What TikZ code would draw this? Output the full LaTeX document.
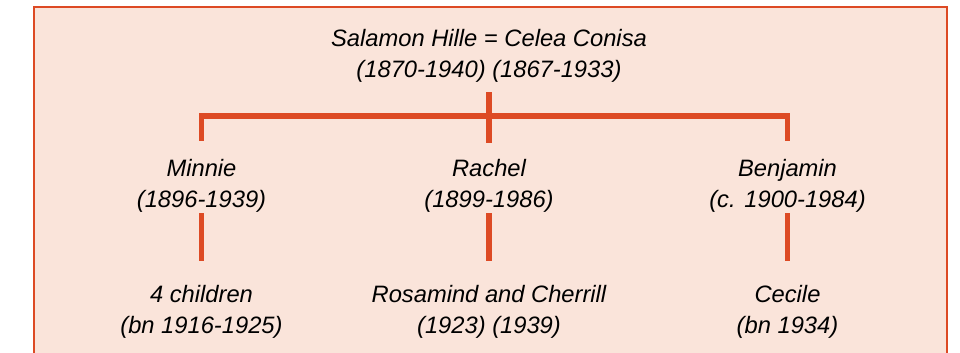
\documentclass[tikz,border=0pt]{standalone}
\usepackage{fontspec}
\usepackage{xcolor}
\setmainfont{Liberation Sans}
\definecolor{boxfill}{RGB}{250,228,218}
\definecolor{treeline}{RGB}{221,74,36}

\begin{document}
\begin{tikzpicture}[x=0.02cm,y=-0.02cm,
    person/.style={font=\itshape\fontsize{13.5}{17.4}\selectfont,align=center,inner sep=0pt,anchor=base},
    link/.style={treeline,line width=3.1pt}]
      \useasboundingbox (0,0) rectangle (960,352);
      \draw [treeline,fill=boxfill,line width=1.4pt] (34,7) rectangle (947,370);
      % couple
      \node [person] (couple) at (489,77) {Salamon Hille = Celea Conisa\\(1870-1940) (1867-1933)};
      % children
      \node [person] (minnie) at (201.5,207) {Minnie\\(1896-1939)};
      \node [person] (rachel) at (489,207) {Rachel\\(1899-1986)};
      \node [person] (benjamin) at (787.5,207) {Benjamin\\(c. 1900-1984)};
      % grandchildren
      \node [person] (minniekids) at (201.5,333) {4 children\\(bn 1916-1925)};
      \node [person] (rachelkids) at (489,333) {Rosamind and Cherrill\\(1923) (1939)};
      \node [person] (benjaminkids) at (787.5,333) {Cecile\\(bn 1934)};
      \coordinate (bar) at (489,116);
      \draw [link] ([yshift=-0.2cm]couple.south) -- ([yshift=0.31cm]rachel.north);
      \draw [link] ([yshift=0.36cm]minnie.north) -- (minnie.north |- bar) -- (benjamin.north |- bar) -- ([yshift=0.36cm]benjamin.north);
      \draw [link] ([yshift=-0.02cm]minnie.south) -- ([yshift=0.47cm]minniekids.north);
      \draw [link] ([yshift=-0.02cm]rachel.south) -- ([yshift=0.47cm]rachelkids.north);
      \draw [link] ([yshift=-0.02cm]benjamin.south) -- ([yshift=0.47cm]benjaminkids.north);
    \end{tikzpicture}
\end{document}
